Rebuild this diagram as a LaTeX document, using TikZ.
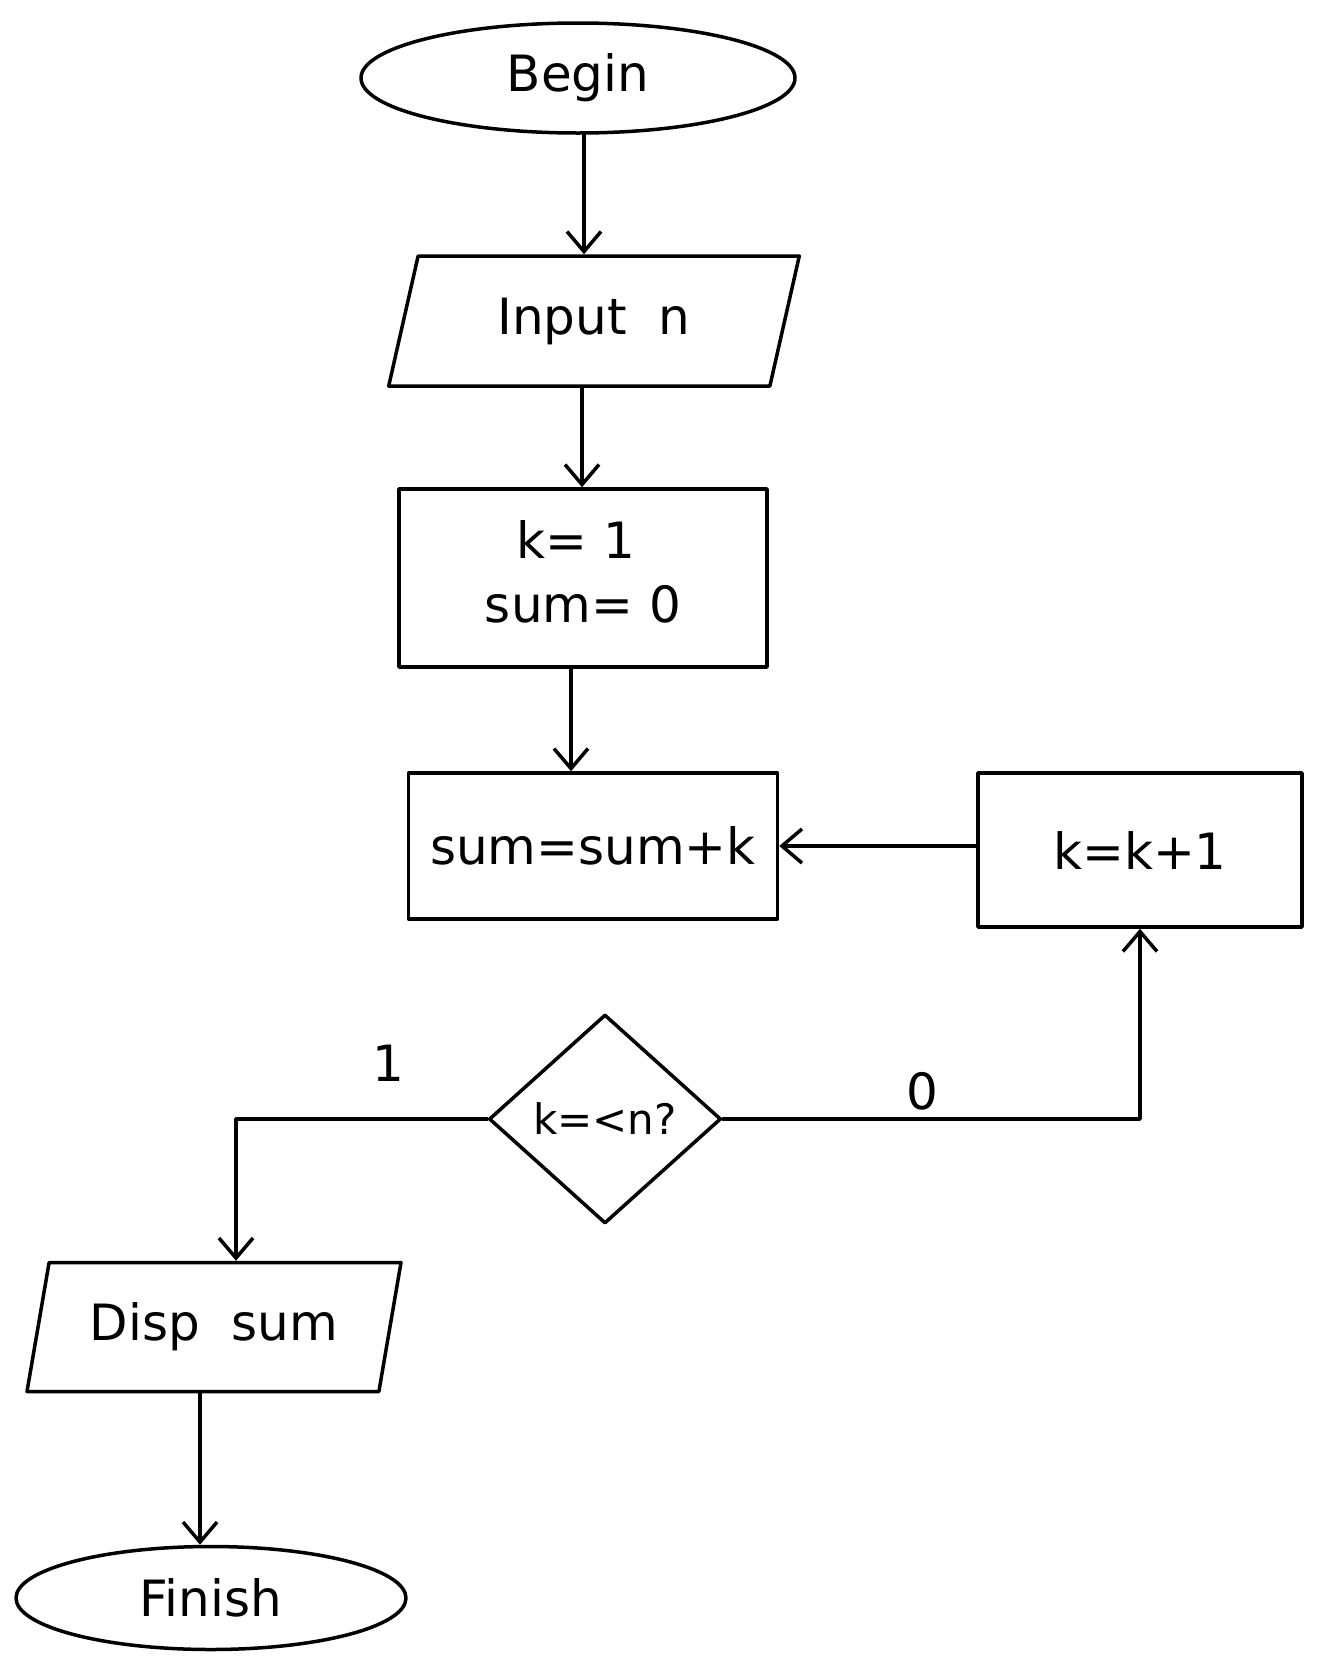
\documentclass[tikz,border=0pt]{standalone}
\usepackage{fontspec}
\setmainfont{DejaVu Sans}
\usetikzlibrary{shapes.geometric,arrows.meta}
\begin{document}
\begin{tikzpicture}[x=1pt,y=-1pt,
  line width=3.5pt, line join=round, line cap=round,
  every node/.style={font=\fontsize{50}{64}\selectfont, inner sep=0pt},
  terminal/.style={draw, ellipse},
  iobox/.style={draw, trapezium, trapezium left angle=71, trapezium right angle=109,
    trapezium stretches=true},
  procbox/.style={draw, rectangle},
  decision/.style={draw, diamond, aspect=1.1},
  arr/.style={-{Straight Barb[length=20pt,width=34pt,line width=3.5pt]}},
  edgelabel/.style={font=\fontsize{50}{54}\selectfont}]
\useasboundingbox (0,0) rectangle (1321,1666);

% nodes
\node[terminal, minimum width=434, minimum height=110] (begin) at (578,78) {Begin};
\node[iobox, minimum width=412, minimum height=130] (input) at (594,321) {Input\ \ n};
\node[procbox, minimum width=368, minimum height=178] (init) at (583,578)
  {\begin{tabular}{@{}l@{}}\ \ k= 1\\sum= 0\end{tabular}};
\node[procbox, minimum width=369, minimum height=146] (acc) at (593,846) {sum=sum+k};
\node[procbox, minimum width=324, minimum height=154] (inc) at (1140,850) {k=k+1};
\node[decision, minimum width=232, minimum height=209] (dec) at (605,1119)
  {\fontsize{42}{46}\selectfont k=<n?};
\node[iobox, minimum width=375, minimum height=129] (disp) at (214,1327) {Disp\ \ sum};
\node[terminal, minimum width=390, minimum height=103] (finish) at (211,1598) {Finish};

% bend point of the "yes" branch
\coordinate (yesbend) at (236,1112);

% connectors
\draw[arr] ([xshift=6pt]begin.south) -- ([xshift=6pt]begin.south |- input.north);
\draw[arr] ([xshift=-12pt]input.south) -- ([xshift=-12pt]input.south |- init.north);
\draw[arr] ([xshift=-12pt]init.south) -- ([xshift=-12pt]init.south |- acc.north);
\draw[arr] (inc.west |- acc.east) -- (acc.east);
\draw[arr] (dec.west) -- (dec.west -| yesbend) -- (yesbend |- disp.north);
\draw[arr] (dec.east) -| (inc.south);
\draw[arr] ([xshift=-14pt]disp.south) -- ([xshift=-14pt]disp.south |- finish.north);

% branch labels
\node[edgelabel] (lblyes) at (388,1063) {1};
\node[edgelabel] (lblno) at (922,1091) {0};
\end{tikzpicture}
\end{document}
